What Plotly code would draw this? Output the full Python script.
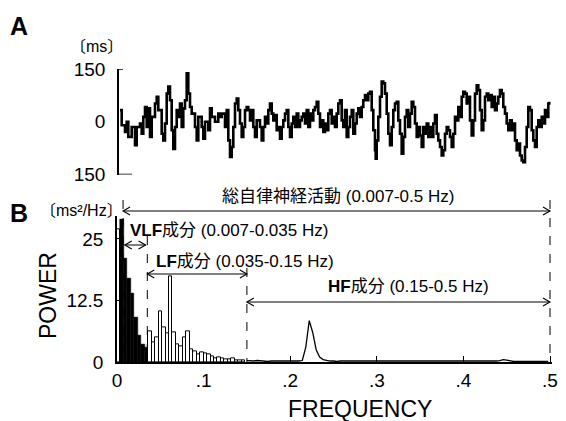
import numpy as np
import plotly.graph_objects as go

# ---------------- Panel A: R-R interval deviation (ms) ----------------
rr_t = [
    1, 2.7, 6, 7.7, 9.3, 12.7, 16, 17.7, 21, 22.7,
    24.3, 26, 27.7, 29.3, 31, 32.7, 36, 37.7, 39.3, 42.7,
    44.3, 46, 47.7, 49.3, 51, 52.7, 54.3, 56, 57.7, 59.3,
    61, 62.7, 64.3, 66, 67.7, 69.3, 71, 72.7, 76, 77.7,
    79.3, 82.7, 84.3, 86, 89.3, 91, 92.7, 96, 99.3,
    101, 102.7, 106, 107.7, 109.3, 111, 112.7, 114.3, 116, 117.7,
    119.3, 121, 122.7, 124.3, 126, 127.7, 129.3, 131, 132.7, 134.3,
    136, 137.7, 141, 142.7, 144.3, 146, 147.7, 149.3, 151, 152.7,
    154.3, 156, 157.7, 159.3, 161, 162.7, 164.3, 166, 167.7, 169.3,
    171, 172.7, 174.3, 176, 177.7, 179.3, 181, 182.7, 184.3, 186,
    187.7, 189.3, 191, 192.7, 194.3, 196, 197.7, 199.3, 201, 202.7,
    204.3, 206,
    207.7, 209.3, 211, 212.7, 214.3, 216, 217.7, 219.3, 221, 222.7,
    224.3, 226, 227.7, 229.3, 231, 232.7, 234.3, 236, 237.7, 239.3,
    241, 242.7, 244.3, 246, 247.7, 249.3, 251, 252.7, 254.3, 256,
    256.7, 257.7, 259.3, 261, 262.7, 264.3, 266, 267.7, 269.3, 271,
    272.7, 274.3, 276, 277.7, 279.3, 281, 282.7, 284.3, 286, 287.7,
    289.3, 291, 292.7, 294.3, 296, 297.7, 299.3, 301, 302.7, 304.3,
    306, 307.7, 309.3,
    311, 312.7, 314.3, 316, 317.7, 319.3, 321, 322.7, 324.3, 326,
    327.7, 329.3, 331, 332.7, 334.3, 336, 337.7, 339.3, 341, 342.7,
    344.3, 346, 347.7, 349.3, 351, 352.7, 354.3, 356, 357.7, 359.3,
    361, 362.7, 364.3, 366, 367.7, 369.3, 371, 372.7, 374.3, 376,
    377.7, 379.3, 381, 382.7, 384.3, 386, 387.7, 389.3, 391, 392.7,
    394.3, 396, 397.7, 399.3, 401, 402.7, 404.3, 406, 407.7, 409.3,
    411, 412.7, 414.3, 416, 417.7, 419.3, 421, 422.7, 424.3, 426,
    427.7, 429.3, 430.3,
]
rr_ms = [
    33, -10, -29, 0, -43, -15, -67, -15, -5, -34,
    14, 42, -15, 38, -43, 14, 52, 71, 33, -34,
    -53, -5, 80, 100, 61, -24, -77, -15, 33, 14,
    52, -15, 38, 61, 138, 80, 42, 23, -15, -53,
    14, -15, -48, 0, -24, 38, 14, 0, 23,
    14, 23, -15, 33, -53, -100, -72, -15, 52, 66,
    33, -5, -43, -15, 33, 42, 33, 4, 33, -15,
    -43, 4, -15, -53, -15, 14, -5, 33, 52, 23,
    4, 19, -24, -15, -48, -15, 4, 23, 33, -15,
    -43, -5, 14, -15, 23, -15, 4, 14, 23, -5,
    33, -15, 23, 4, 33, 42, 57, 23, -15, 4,
    -29, -5,
    -24, 23, 33, -5, 14, -15, 23, 52, 61, 4,
    -15, 33, -43, -15, 14, 33, -34, -5, 23, 38,
    14, 42, 61, 76, 61, 80, 85, 33, -24, -81,
    -105, -53, 14, 71, 114, 109, 80, 23, -34, -67,
    -15, 33, 52, 57, 4, -34, -91, -43, 14, 33,
    -15, 23, 57, 42, -5, -43, -15, -39, -72, -15,
    -34, -5, -43,
    -15, -43, -5, 19, -34, -53, -72, -96, -81, -34,
    -15, -24, -43, -72, -34, 14, 4, 42, 14, 71,
    85, 80, 52, 71, 4, -39, 4, 80, 104, 90,
    33, -24, 4, 71, 80, 61, 76, 42, 71, 33,
    52, 71, 90, 80, 42, 23, -5, -24, 4, -24,
    -5, -53, -81, -62, -96, -110, -115, -72, -15, 42,
    33, -24, -53, -72, -15, 4, -15, 14, -5, 33,
    14, 52, 57,
]
n_rr = min(len(rr_t), len(rr_ms))
rr_t, rr_ms = rr_t[:n_rr], rr_ms[:n_rr]

a_ticks = [-150, 0, 150]
a_ticktext = ["150", "0", "150"]

# ---------------- Panel B: power spectrum (ms^2/Hz) ----------------
dc_freq = [0.002]
dc_power = [27]

vlf_freq = [0.006, 0.010, 0.014, 0.018, 0.022, 0.026, 0.030, 0.034]
vlf_power = [29, 21, 17, 14, 9, 5.5, 3.5, 3]

lf_freq = [0.038, 0.042, 0.046, 0.050, 0.054, 0.058, 0.062, 0.066, 0.070, 0.074,
           0.078, 0.082, 0.086, 0.090, 0.094, 0.098, 0.102, 0.106, 0.110, 0.114,
           0.118, 0.122, 0.126, 0.130, 0.134, 0.138, 0.142, 0.146]
lf_power = [6.2, 4.0, 5.0, 10.2, 7.0, 5.9, 17.5, 6.0, 3.5, 3.1,
            5.0, 6.2, 2.5, 2.1, 1.5, 2.0, 1.7, 1.6, 1.2, 0.8,
            1.0, 0.7, 0.5, 0.6, 0.7, 0.4, 0.3, 0.3]

hf_freq = [round(0.150 + 0.004 * i, 3) for i in range(88)]
hf_power = [
    0.3, 0.2, 0.2, 0.3, 0.2, 0.2, 0.1, 0.2, 0.2, 0.1,
    0.2, 0.2, 0.1, 0.2, 0.2, 0.2, 0.3, 3.0, 8.4, 6.0,
    2.5, 1.0, 0.5, 0.3, 0.2, 0.2, 0.1, 0.2, 0.2, 0.1,
    0.2, 0.1, 0.2, 0.2, 0.1, 0.2, 0.1, 0.2, 0.1, 0.2,
    0.2, 0.1, 0.1, 0.2, 0.1, 0.2, 0.1, 0.1, 0.2, 0.1,
    0.2, 0.1, 0.1, 0.2, 0.1, 0.1, 0.2, 0.1, 0.1, 0.2,
    0.1, 0.1, 0.2, 0.1, 0.1, 0.2, 0.1, 0.1, 0.2, 0.1,
    0.1, 0.1, 0.2, 0.3, 0.5, 0.4, 0.2, 0.1, 0.1, 0.1,
    0.1, 0.1, 0.1, 0.1, 0.1, 0.1, 0.1, 0.1,
]
n_hf = min(len(hf_freq), len(hf_power))
hf_freq, hf_power = hf_freq[:n_hf], hf_power[:n_hf]

b_xticks = [0, 0.1, 0.2, 0.3, 0.4, 0.5]
b_xticktext = ["0", ".1", ".2", ".3", ".4", ".5"]
b_yticks = [0, 12.5, 25]
b_yticktext = ["0", "12.5", "25"]

band_total = (0.007, 0.5)
band_vlf = (0.007, 0.035)
band_lf = (0.035, 0.15)
band_hf = (0.15, 0.5)

# ---------------- layout helpers ----------------
# the page puts the figure 8 px in from the top-left corner of the window,
# so positions below are page pixels shifted by that offset
W, H = 566, 421
OFF = 8
def px(x):
    return (x - OFF) / W
def py(y):
    return 1 - (y - OFF) / H

FONT = "Liberation Sans, Arial, Noto Sans CJK JP, sans-serif"

fig = go.Figure()

fig.add_trace(go.Scatter(x=rr_t, y=rr_ms, mode="lines",
                         line=dict(color="black", width=2.6, shape="hv"),
                         xaxis="x", yaxis="y", showlegend=False))

fig.add_trace(go.Bar(x=vlf_freq, y=vlf_power, width=0.004,
                     marker=dict(color="black", line=dict(color="black", width=0.5)),
                     xaxis="x2", yaxis="y2", showlegend=False))
fig.add_trace(go.Bar(x=dc_freq + lf_freq, y=dc_power + lf_power, width=0.004,
                     marker=dict(color="white", line=dict(color="black", width=1)),
                     xaxis="x2", yaxis="y2", showlegend=False))
fig.add_trace(go.Scatter(x=hf_freq, y=hf_power, mode="lines",
                         line=dict(color="black", width=1.3),
                         xaxis="x2", yaxis="y2", showlegend=False))

# axis geometry (page pixels)
A_X0, A_X1 = 119, 551
A_Y150, A_YM150 = 69, 174.5
B_F0_PX, B_PX_PER_HZ = 117, 866
B_XR = [0, 0.502]
B_Y0_PX, B_PX_PER_UNIT = 362, 4.92
B_YR = [0, 29.6]

fig.update_layout(
    width=W, height=H,
    margin=dict(l=0, r=0, t=0, b=0, autoexpand=False),
    paper_bgcolor="white", plot_bgcolor="white",
    barmode="overlay", bargap=0,
    font=dict(family=FONT, color="black"),
    xaxis=dict(domain=[px(A_X0), px(A_X1)], range=[0, 432], visible=False,
               anchor="y", automargin=False),
    yaxis=dict(domain=[py(A_YM150), py(A_Y150)], range=[-150, 150],
               tickvals=a_ticks, ticktext=a_ticktext, ticks="",
               showline=True, linecolor="black", linewidth=1.6,
               showgrid=False, zeroline=False, anchor="x", automargin=False,
               tickfont=dict(size=19), ticklabelstandoff=8),
    xaxis2=dict(domain=[px(B_F0_PX + B_XR[0] * B_PX_PER_HZ), px(B_F0_PX + B_XR[1] * B_PX_PER_HZ)],
                range=B_XR, tickvals=b_xticks, ticktext=b_xticktext,
                ticks="inside", ticklen=6, tickcolor="black", tickwidth=1.3,
                showline=True, linecolor="black", linewidth=1.6,
                showgrid=False, zeroline=False, anchor="y2", automargin=False,
                tickfont=dict(size=19), ticklabelstandoff=0),
    yaxis2=dict(domain=[py(B_Y0_PX), py(B_Y0_PX - B_YR[1] * B_PX_PER_UNIT)],
                range=B_YR, tickvals=b_yticks, ticktext=b_yticktext,
                ticks="inside", ticklen=5, tickcolor="black", tickwidth=1.3,
                showline=True, linecolor="black", linewidth=1.6,
                showgrid=False, zeroline=False, anchor="x2", automargin=False,
                tickfont=dict(size=19), ticklabelstandoff=8),
)

shapes = []
# bracket ends for panel A axis
shapes.append(dict(type="line", xref="x", yref="y", x0=0, x1=4, y0=150, y1=150,
                   line=dict(color="black", width=1.6)))
shapes.append(dict(type="line", xref="x", yref="y", x0=0, x1=13, y0=-150, y1=-150,
                   line=dict(color="black", width=1.6)))

# dashed band boundaries (panel B)
for f, ytop in [(band_total[0], 200), (band_vlf[1], 236), (band_lf[1], 268), (band_total[1], 200)]:
    shapes.append(dict(type="line", xref="x2", yref="paper", x0=f, x1=f,
                       y0=py(ytop), y1=py(B_Y0_PX), layer="below",
                       line=dict(color="black", width=1, dash="dash")))

# double-headed arrows with open chevrons
HEAD_L = 7 / B_PX_PER_HZ
HEAD_H = 4 / H
def double_arrow(f0, f1, ypx):
    yy = py(ypx)
    shapes.append(dict(type="line", xref="x2", yref="paper", x0=f0, x1=f1, y0=yy, y1=yy,
                       line=dict(color="black", width=1.1)))
    shapes.append(dict(type="path", xref="x2", yref="paper",
                       path=f"M {f0 + HEAD_L},{yy + HEAD_H} L {f0},{yy} L {f0 + HEAD_L},{yy - HEAD_H}",
                       line=dict(color="black", width=1.1)))
    shapes.append(dict(type="path", xref="x2", yref="paper",
                       path=f"M {f1 - HEAD_L},{yy + HEAD_H} L {f1},{yy} L {f1 - HEAD_L},{yy - HEAD_H}",
                       line=dict(color="black", width=1.1)))

double_arrow(band_total[0], band_total[1], 211)
double_arrow(band_vlf[0] + 0.002, band_vlf[1] - 0.002, 245)
double_arrow(band_lf[0], band_lf[1], 274)
double_arrow(band_hf[0], band_hf[1], 302)

fig.update_layout(shapes=shapes)

ann = []
def text(x, y, s, size, xanchor="center", yanchor="middle", angle=0):
    ann.append(dict(x=px(x), y=py(y), xref="paper", yref="paper", text=s,
                    showarrow=False, xanchor=xanchor, yanchor=yanchor,
                    textangle=angle, font=dict(size=size, family=FONT, color="black")))

text(8, 26, "<b>A</b>", 25, xanchor="left")
text(8, 213, "<b>B</b>", 25, xanchor="left")
text(96, 47, "〔ms〕", 16)
text(81, 210, "〔ms²/Hz〕", 16)
text(48, 296, "POWER", 23, angle=-90)
text(360, 409, "FREQUENCY", 23)

text(338, 197, "総自律神経活動 (0.007-0.5 Hz)", 17)
text(128, 230, "<b>VLF</b>成分 (0.007-0.035 Hz)", 17, xanchor="left")
text(154, 261, "<b>LF</b>成分 (0.035-0.15 Hz)", 17, xanchor="left")
text(326, 286, "<b>HF</b>成分 (0.15-0.5 Hz)", 17, xanchor="left")

fig.update_layout(annotations=ann)

fig.write_html("out.html")
